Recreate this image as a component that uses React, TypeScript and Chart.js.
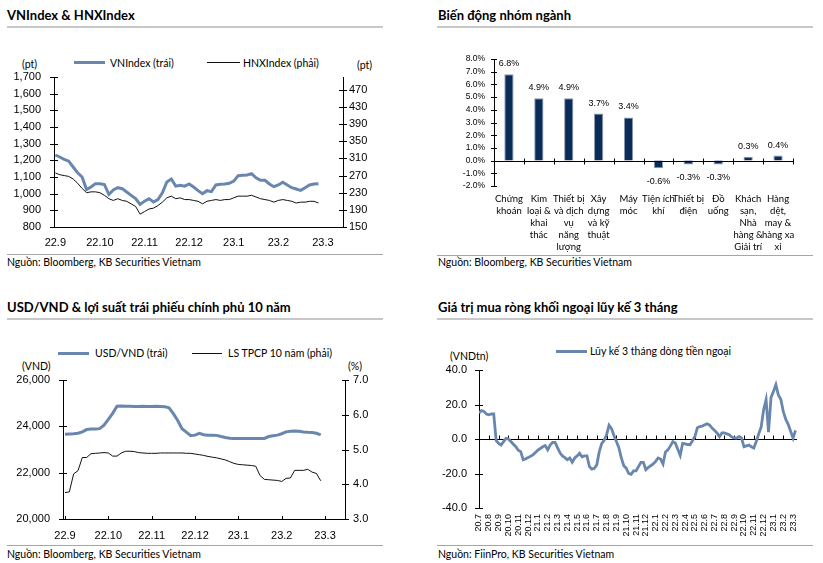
import React, { useEffect, useRef } from 'react';
import { Chart, registerables } from 'chart.js';

Chart.register(...registerables);

const BLUE = '#6886ae';
const NAVY = '#0b2c56';
const NUM_FAMILY = '"Liberation Sans", Arial, sans-serif';
const TEXT_FAMILY = 'Lato, "Open Sans", sans-serif';

// ---------- VNIndex & HNXIndex ----------
const TL_MONTHS = ['22.9', '22.10', '22.11', '22.12', '23.1', '23.2', '23.3'];
const TL_PER_MONTH = 10;
const VNINDEX = [
  1232, 1220, 1205, 1195, 1160, 1125, 1100, 1025, 1040, 1060,
  1060, 1055, 995, 1022, 1036, 1030, 1010, 990, 970, 935,
  955, 970, 950, 965, 1005, 1070, 1088, 1045, 1050, 1045,
  1058, 1040, 1018, 1000, 1018, 1012, 1052, 1056, 1058, 1062,
  1075, 1108, 1110, 1112, 1120, 1095, 1080, 1080, 1058, 1042,
  1052, 1068, 1052, 1036, 1028, 1020, 1036, 1052, 1058, 1060,
];
const HNXINDEX = [
  276, 272, 270, 268, 262, 252, 240, 230, 232, 232,
  230, 224, 216, 212, 216, 212, 210, 204, 198, 180,
  186, 192, 194, 200, 208, 218, 222, 216, 218, 214,
  214, 212, 210, 204, 210, 212, 214, 212, 214, 214,
  218, 222, 222, 222, 224, 220, 216, 214, 212, 208,
  212, 214, 212, 210, 206, 208, 208, 210, 210, 206,
];
const TL_LEFT_TICKS = [800, 900, 1000, 1100, 1200, 1300, 1400, 1500, 1600, 1700];
const TL_RIGHT_TICKS = [150, 190, 230, 270, 310, 350, 390, 430, 470];

// ---------- Biến động nhóm ngành ----------
const SECTOR_LABELS = [
  ['Chứng', 'khoán'],
  ['Kim', 'loại &', 'khai', 'thác'],
  ['Thiết bị', 'và dịch', 'vụ', 'năng', 'lượng'],
  ['Xây', 'dựng', 'và kỹ', 'thuật'],
  ['Máy', 'móc'],
  ['Tiện ích', 'khí'],
  ['Thiết bị', 'điện'],
  ['Đồ', 'uống'],
  ['Khách', 'sạn,', 'Nhà', 'hàng &', 'Giải trí'],
  ['Hàng', 'dệt,', 'may &', 'hàng xa', 'xỉ'],
];
const SECTOR_CHANGE = [6.8, 4.9, 4.9, 3.7, 3.4, -0.6, -0.3, -0.3, 0.3, 0.4];
const SECTOR_TICKS = [-2, -1, 0, 1, 2, 3, 4, 5, 6, 7, 8];

// ---------- USD/VND & LS TPCP 10 năm ----------
const BL_MONTHS = ['22.9', '22.10', '22.11', '22.12', '23.1', '23.2', '23.3'];
const BL_PER_MONTH = 10;
const USDVND = [
  23660, 23670, 23680, 23700, 23760, 23860, 23880, 23890, 23900, 24050,
  24300, 24560, 24870, 24880, 24870, 24870, 24860, 24860, 24870, 24860,
  24860, 24870, 24860, 24850, 24800, 24550, 24250, 23900, 23750, 23600,
  23620, 23700, 23640, 23620, 23620, 23610, 23560, 23520, 23490, 23480,
  23475, 23475, 23475, 23475, 23475, 23480, 23480, 23560, 23590, 23620,
  23680, 23760, 23790, 23800, 23790, 23760, 23740, 23730, 23700, 23630,
];
const GOV_BOND_10Y = [
  3.76, 3.78, 4.3, 4.39, 4.77, 4.77, 4.88, 4.89, 4.9, 4.91,
  4.9, 4.81, 4.81, 4.9, 4.95, 4.95, 4.94, 4.91, 4.9, 4.89,
  4.89, 4.89, 4.9, 4.9, 4.9, 4.9, 4.9, 4.9, 4.89, 4.89,
  4.87, 4.85, 4.83, 4.8, 4.78, 4.76, 4.73, 4.7, 4.65, 4.6,
  4.57, 4.56, 4.55, 4.54, 4.52, 4.25, 4.14, 4.13, 4.12, 4.11,
  4.08, 4.17, 4.18, 4.4, 4.4, 4.4, 4.43, 4.35, 4.31, 4.1,
];
const BL_LEFT_TICKS = [20000, 22000, 24000, 26000];
const BL_RIGHT_TICKS = [3, 4, 5, 6, 7];

// ---------- Giá trị mua ròng khối ngoại lũy kế 3 tháng ----------
const BR_MONTHS = [
  '20.7', '20.8', '20.9', '20.10', '20.11', '20.12',
  '21.1', '21.2', '21.3', '21.4', '21.5', '21.6', '21.7', '21.8', '21.9', '21.10', '21.11', '21.12',
  '22.1', '22.2', '22.3', '22.4', '22.5', '22.6', '22.7', '22.8', '22.9', '22.10', '22.11', '22.12',
  '23.1', '23.2', '23.3',
];
const BR_PER_MONTH = 4;
const FOREIGN_NET_3M = [
  15, 16.5, 16, 14.5,
  14, 14.5, 14.5, -1,
  -2.5, -3.5, -1.5, 0.4,
  0, -1.5, -3, -4.5,
  -6.5, -7.3, -12, -11.5,
  -10.8, -10, -9.2, -7.8,
  -6.5, -5.5, -4.5, -3.8,
  -6.3, -3.5, -2, -2,
  -5, -8, -9.8, -10.8,
  -12, -11, -13.5, -11,
  -9.8, -8.3, -10.3, -9.8,
  -9.8, -16, -17.5, -17,
  -15, -7.5, -2.7, -0.8,
  2.5, 8, 6, 2,
  -1.5, -5, -11, -15.5,
  -16.9, -20, -20.5, -18.5,
  -18.5, -16, -13.5, -13.5,
  -17.8, -16.5, -15.5, -14.5,
  -13, -11, -11.6, -14.5,
  -7.5, -6.3, -4, -1.5,
  -2.3, -6, -9.5, -2.5,
  -2.8, -3.2, -3.3, -1,
  1.5, 6.5, 7.2, 7.5,
  8.2, 8.8, 8, 6.3,
  5, 3.5, 1.3, 3.5,
  3.5, 3, 2.5, 1.2,
  0.6, 0.5, 1.5, 0.5,
  -4.5, -4, -3.5, -4.5,
  -5.2, -1.5, 3, 7,
  17, 22.8, 4, 24,
  27.5, 31.5, 25.5, 23,
  16, 11.5, 8.5, 4.5,
  0.5, 5,
];
const BR_TICKS = [-40, -20, 0, 20, 40];

// ---------- helpers ----------
const fixTicks = (values: number[]) => (s: any) => {
  s.ticks = values.map((v) => ({ value: v }));
};
const clearPad = (s: any) => {
  s.paddingTop = 0;
  s.paddingBottom = 0;
  s.paddingLeft = 0;
  s.paddingRight = 0;
};
const fixWidth = (w: number) => (s: any) => {
  s.width = w;
  clearPad(s);
};
const fixHeight = (h: number) => (s: any) => {
  s.height = h;
  clearPad(s);
};
const toPoints = (vals: number[], per: number) => vals.map((v, i) => ({ x: i / per, y: v }));
const indexList = (arr: any[]) => arr.map((_, i) => i);

function hTicks(ctx: CanvasRenderingContext2D, scale: any, x: number, l: number, r: number) {
  scale.ticks.forEach((t: any) => {
    const y = Math.round(scale.getPixelForValue(t.value)) + 0.5;
    ctx.moveTo(x - l, y);
    ctx.lineTo(x + r, y);
  });
}
function vTicks(ctx: CanvasRenderingContext2D, xs: number[], y: number, up: number, down: number) {
  xs.forEach((px) => {
    const x = Math.round(px) + 0.5;
    ctx.moveTo(x, y - up);
    ctx.lineTo(x, y + down);
  });
}

const noGrid = { display: false, drawTicks: false };
const blackBorder = { display: true, color: '#000', width: 1 };
const numFont = (size: number) => ({ family: NUM_FAMILY, size });
const basePlugins = { legend: { display: false }, tooltip: { enabled: false } };

function makeTopLeft(canvas: HTMLCanvasElement) {
  return new Chart(canvas, {
    type: 'line',
    data: {
      datasets: [
        {
          label: 'VNIndex (trái)',
          data: toPoints(VNINDEX, TL_PER_MONTH),
          borderColor: BLUE,
          borderWidth: 3,
          pointRadius: 0,
          yAxisID: 'y',
        },
        {
          label: 'HNXIndex (phải)',
          data: toPoints(HNXINDEX, TL_PER_MONTH),
          borderColor: '#111',
          borderWidth: 1,
          pointRadius: 0,
          yAxisID: 'y1',
        },
      ],
    },
    options: {
      animation: false,
      responsive: false,
      layout: { padding: { top: 7, right: 0, bottom: 0, left: 0 }, autoPadding: false },
      plugins: basePlugins,
      scales: {
        x: {
          type: 'linear',
          min: -0.03,
          max: 6.45,
          afterBuildTicks: fixTicks(indexList(TL_MONTHS)),
          afterFit: fixHeight(23),
          grid: noGrid,
          border: blackBorder,
          ticks: {
            font: numFont(11),
            color: '#000',
            padding: 9,
            maxRotation: 0,
            autoSkip: false,
            callback: (v: any) => TL_MONTHS[Math.round(v)],
          },
        },
        y: {
          position: 'left',
          min: 800,
          max: 1700,
          afterBuildTicks: fixTicks(TL_LEFT_TICKS),
          afterFit: fixWidth(54),
          grid: noGrid,
          border: blackBorder,
          ticks: { font: numFont(11), color: '#000', padding: 13, autoSkip: false, callback: (v: any) => Number(v).toLocaleString('en-US') },
        },
        y1: {
          position: 'right',
          min: 150,
          max: 500,
          afterBuildTicks: fixTicks(TL_RIGHT_TICKS),
          afterFit: fixWidth(57),
          grid: noGrid,
          border: blackBorder,
          ticks: { font: numFont(11), color: '#000', padding: 6, autoSkip: false, callback: (v: any) => String(v) },
        },
      },
    },
    plugins: [
      {
        id: 'tlTicks',
        afterDraw(chart: any) {
          const { ctx, chartArea: a, scales } = chart;
          ctx.save();
          ctx.beginPath();
          ctx.strokeStyle = '#000';
          ctx.lineWidth = 1;
          hTicks(ctx, scales.y, a.left, 4, 4);
          hTicks(ctx, scales.y1, a.right, 4, 4);
          ctx.stroke();
          ctx.restore();
        },
      },
    ],
  } as any);
}

function makeTopRight(canvas: HTMLCanvasElement) {
  return new Chart(canvas, {
    type: 'bar',
    data: {
      labels: SECTOR_LABELS,
      datasets: [
        {
          data: SECTOR_CHANGE,
          backgroundColor: NAVY,
          borderColor: '#8c9ab0',
          borderWidth: 1,
          barPercentage: 0.31,
          categoryPercentage: 1,
        },
      ],
    },
    options: {
      animation: false,
      responsive: false,
      layout: { padding: { top: 9, right: 17, bottom: 0, left: 0 }, autoPadding: false },
      plugins: basePlugins,
      scales: {
        x: {
          grid: noGrid,
          border: { display: false },
          afterFit: fixHeight(68),
          ticks: {
            font: { family: TEXT_FAMILY, size: 9.5, lineHeight: 1.26 },
            color: '#000',
            padding: 7,
            maxRotation: 0,
            autoSkip: false,
          },
        },
        y: {
          min: -2,
          max: 8,
          afterBuildTicks: fixTicks(SECTOR_TICKS),
          afterFit: fixWidth(64),
          grid: noGrid,
          border: blackBorder,
          ticks: { font: numFont(8.5), color: '#000', padding: 9, autoSkip: false, callback: (v: any) => Number(v).toFixed(1) + '%' },
        },
      },
    },
    plugins: [
      {
        id: 'trMarks',
        afterDatasetsDraw(chart: any) {
          const { ctx, chartArea: a, scales } = chart;
          ctx.save();
          ctx.beginPath();
          ctx.strokeStyle = '#000';
          ctx.lineWidth = 1;
          const y0 = Math.round(scales.y.getPixelForValue(0)) + 0.5;
          ctx.moveTo(a.left, y0);
          ctx.lineTo(a.right, y0);
          const n = SECTOR_CHANGE.length;
          const w = (a.right - a.left) / n;
          vTicks(ctx, SECTOR_CHANGE.map((_, k) => a.left + (k + 1) * w), y0, 3, 3);
          hTicks(ctx, scales.y, a.left, 3, 3);
          ctx.stroke();
          ctx.fillStyle = '#000';
          ctx.font = `9px ${NUM_FAMILY}`;
          ctx.textAlign = 'center';
          const meta = chart.getDatasetMeta(0);
          meta.data.forEach((bar: any, i: number) => {
            const v = SECTOR_CHANGE[i];
            const txt = v.toFixed(1) + '%';
            if (v >= 0) {
              ctx.textBaseline = 'bottom';
              ctx.fillText(txt, bar.x, bar.y - 6);
            } else {
              ctx.textBaseline = 'top';
              ctx.fillText(txt, bar.x, bar.y + 9);
            }
          });
          ctx.restore();
        },
      },
    ],
  } as any);
}

function makeBottomLeft(canvas: HTMLCanvasElement) {
  return new Chart(canvas, {
    type: 'line',
    data: {
      datasets: [
        {
          label: 'USD/VND (trái)',
          data: toPoints(USDVND, BL_PER_MONTH),
          borderColor: BLUE,
          borderWidth: 3,
          pointRadius: 0,
          yAxisID: 'y',
        },
        {
          label: 'LS TPCP 10 năm (phải)',
          data: toPoints(GOV_BOND_10Y, BL_PER_MONTH),
          borderColor: '#111',
          borderWidth: 1,
          pointRadius: 0,
          yAxisID: 'y1',
        },
      ],
    },
    options: {
      animation: false,
      responsive: false,
      layout: { padding: { top: 8, right: 0, bottom: 0, left: 0 }, autoPadding: false },
      plugins: basePlugins,
      scales: {
        x: {
          type: 'linear',
          min: -0.046,
          max: 6.46,
          afterBuildTicks: fixTicks(indexList(BL_MONTHS)),
          afterFit: fixHeight(26),
          grid: noGrid,
          border: blackBorder,
          ticks: {
            font: numFont(11),
            color: '#000',
            padding: 10,
            maxRotation: 0,
            autoSkip: false,
            callback: (v: any) => BL_MONTHS[Math.round(v)],
          },
        },
        y: {
          position: 'left',
          min: 20000,
          max: 26000,
          afterBuildTicks: fixTicks(BL_LEFT_TICKS),
          afterFit: fixWidth(63),
          grid: noGrid,
          border: blackBorder,
          ticks: { font: numFont(11), color: '#000', padding: 13, autoSkip: false, callback: (v: any) => Number(v).toLocaleString('en-US') },
        },
        y1: {
          position: 'right',
          min: 3,
          max: 7,
          afterBuildTicks: fixTicks(BL_RIGHT_TICKS),
          afterFit: fixWidth(55),
          grid: noGrid,
          border: blackBorder,
          ticks: { font: numFont(11), color: '#000', padding: 8, autoSkip: false, callback: (v: any) => Number(v).toFixed(1) },
        },
      },
    },
    plugins: [
      {
        id: 'blTicks',
        afterDraw(chart: any) {
          const { ctx, chartArea: a, scales } = chart;
          ctx.save();
          ctx.beginPath();
          ctx.strokeStyle = '#000';
          ctx.lineWidth = 1;
          hTicks(ctx, scales.y, a.left, 4, 4);
          hTicks(ctx, scales.y1, a.right, 3, 4);
          vTicks(ctx, BL_MONTHS.map((_, i) => scales.x.getPixelForValue(i)), Math.round(a.bottom), 3, 0);
          ctx.stroke();
          ctx.restore();
        },
      },
    ],
  } as any);
}

function makeBottomRight(canvas: HTMLCanvasElement) {
  return new Chart(canvas, {
    type: 'line',
    data: {
      datasets: [
        {
          label: 'Lũy kế 3 tháng dòng tiền ngoại',
          data: toPoints(FOREIGN_NET_3M, BR_PER_MONTH),
          borderColor: BLUE,
          borderWidth: 2.8,
          pointRadius: 0,
        },
      ],
    },
    options: {
      animation: false,
      responsive: false,
      layout: { padding: { top: 10, right: 13, bottom: 0, left: 0 }, autoPadding: false },
      plugins: basePlugins,
      scales: {
        x: {
          type: 'linear',
          min: 0,
          max: 32.4,
          afterBuildTicks: fixTicks(indexList(BR_MONTHS)),
          afterFit: fixHeight(37),
          grid: noGrid,
          border: { display: false },
          ticks: {
            font: numFont(9),
            color: '#000',
            padding: 6,
            minRotation: 90,
            maxRotation: 90,
            autoSkip: false,
            callback: (v: any) => BR_MONTHS[Math.round(v)],
          },
        },
        y: {
          min: -40,
          max: 40,
          afterBuildTicks: fixTicks(BR_TICKS),
          afterFit: fixWidth(49),
          grid: noGrid,
          border: blackBorder,
          ticks: { font: numFont(11), color: '#000', padding: 12, autoSkip: false, callback: (v: any) => Number(v).toFixed(1) },
        },
      },
    },
    plugins: [
      {
        id: 'brMarks',
        beforeDatasetsDraw(chart: any) {
          const { ctx, chartArea: a, scales } = chart;
          ctx.save();
          ctx.beginPath();
          ctx.strokeStyle = '#000';
          ctx.lineWidth = 1;
          const y0 = Math.round(scales.y.getPixelForValue(0)) + 0.5;
          ctx.moveTo(a.left, y0);
          ctx.lineTo(a.right, y0);
          vTicks(ctx, BR_MONTHS.map((_, i) => scales.x.getPixelForValue(i)).slice(1), y0, 4, 0);
          hTicks(ctx, scales.y, a.left, 4, 4);
          ctx.stroke();
          ctx.restore();
        },
      },
    ],
  } as any);
}

// ---------- layout pieces ----------
function Txt(props: { x: number; y: number; size?: number; bold?: boolean; children: any }) {
  const size = props.size ?? 10.5;
  const lh = Math.round(size * 1.3);
  return (
    <div
      style={{
        position: 'absolute',
        left: props.x,
        top: props.y - lh / 2,
        fontFamily: TEXT_FAMILY,
        fontSize: size,
        lineHeight: `${lh}px`,
        fontWeight: props.bold ? 700 : 400,
        color: '#000',
        whiteSpace: 'nowrap',
      }}
    >
      {props.children}
    </div>
  );
}

function Rule(props: { x: number; y: number; w: number; h?: number; color?: string }) {
  return (
    <div
      style={{
        position: 'absolute',
        left: props.x,
        top: props.y,
        width: props.w,
        height: props.h ?? 1,
        background: props.color ?? '#a6a6a6',
      }}
    />
  );
}

function LegendLine(props: { x: number; y: number; w: number; h: number; color: string }) {
  return (
    <div
      style={{
        position: 'absolute',
        left: props.x,
        top: props.y - props.h / 2,
        width: props.w,
        height: props.h,
        background: props.color,
      }}
    />
  );
}

const canvasStyle = (left: number, top: number, w: number, h: number): React.CSSProperties => ({
  position: 'absolute',
  left,
  top,
  width: w,
  height: h,
});

export default function App() {
  const tl = useRef<HTMLCanvasElement>(null);
  const tr = useRef<HTMLCanvasElement>(null);
  const bl = useRef<HTMLCanvasElement>(null);
  const br = useRef<HTMLCanvasElement>(null);

  useEffect(() => {
    const charts = [
      makeTopLeft(tl.current as HTMLCanvasElement),
      makeTopRight(tr.current as HTMLCanvasElement),
      makeBottomLeft(bl.current as HTMLCanvasElement),
      makeBottomRight(br.current as HTMLCanvasElement),
    ];
    return () => charts.forEach((c) => c.destroy());
  }, []);

  return (
    <div style={{ position: 'absolute', left: 0, top: 0, width: 823, height: 563, background: '#fff', overflow: 'hidden' }}>
      {/* Top-left */}
      <Txt x={7} y={15.5} size={13} bold>VNIndex &amp; HNXIndex</Txt>
      <Rule x={7} y={26} w={376} h={2} color="#c8c8c8" />
      <LegendLine x={74} y={62} w={31} h={3} color={BLUE} />
      <Txt x={110} y={63}>VNIndex (trái)</Txt>
      <LegendLine x={207} y={62} w={33} h={1} color="#111" />
      <Txt x={243} y={63}>HNXIndex (phải)</Txt>
      <Txt x={22} y={64}>(pt)</Txt>
      <Txt x={357} y={65}>(pt)</Txt>
      <canvas ref={tl} width={400} height={180} style={canvasStyle(0, 70, 400, 180)} />
      <Rule x={7} y={254} w={376} />
      <Txt x={7} y={262} size={10.5}>Nguồn: Bloomberg, KB Securities Vietnam</Txt>

      {/* Top-right */}
      <Txt x={438} y={15.5} size={13} bold>Biến động nhóm ngành</Txt>
      <Rule x={437} y={26} w={376} h={2} color="#c8c8c8" />
      <canvas ref={tr} width={380} height={204} style={canvasStyle(430, 50, 380, 204)} />
      <Rule x={437} y={255} w={376} />
      <Txt x={438} y={262} size={10.5}>Nguồn: Bloomberg, KB Securities Vietnam</Txt>

      {/* Bottom-left */}
      <Txt x={7} y={307.5} size={13} bold>USD/VND &amp; lợi suất trái phiếu chính phủ 10 năm</Txt>
      <Rule x={7} y={318} w={376} h={2} color="#c8c8c8" />
      <LegendLine x={58} y={353} w={31} h={3} color={BLUE} />
      <Txt x={95} y={353}>USD/VND (trái)</Txt>
      <LegendLine x={192} y={353} w={30} h={1} color="#111" />
      <Txt x={228} y={353}>LS TPCP 10 năm (phải)</Txt>
      <Txt x={22} y={366}>(VND)</Txt>
      <Txt x={348} y={366}>(%)</Txt>
      <canvas ref={bl} width={400} height={173} style={canvasStyle(0, 372, 400, 173)} />
      <Rule x={7} y={545} w={376} />
      <Txt x={7} y={553.5} size={10.5}>Nguồn: Bloomberg, KB Securities Vietnam</Txt>

      {/* Bottom-right */}
      <Txt x={438} y={307.5} size={13} bold>Giá trị mua ròng khối ngoại lũy kế 3 tháng</Txt>
      <Rule x={437} y={318} w={376} h={2} color="#c8c8c8" />
      <LegendLine x={556} y={351} w={31} h={3} color={BLUE} />
      <Txt x={590} y={351}>Lũy kế 3 tháng dòng tiền ngoại</Txt>
      <Txt x={450} y={356}>(VNDtn)</Txt>
      <canvas ref={br} width={380} height={185} style={canvasStyle(430, 360, 380, 185)} />
      <Rule x={437} y={545} w={376} />
      <Txt x={438} y={553.5} size={10.5}>Nguồn: FiinPro, KB Securities Vietnam</Txt>
    </div>
  );
}
